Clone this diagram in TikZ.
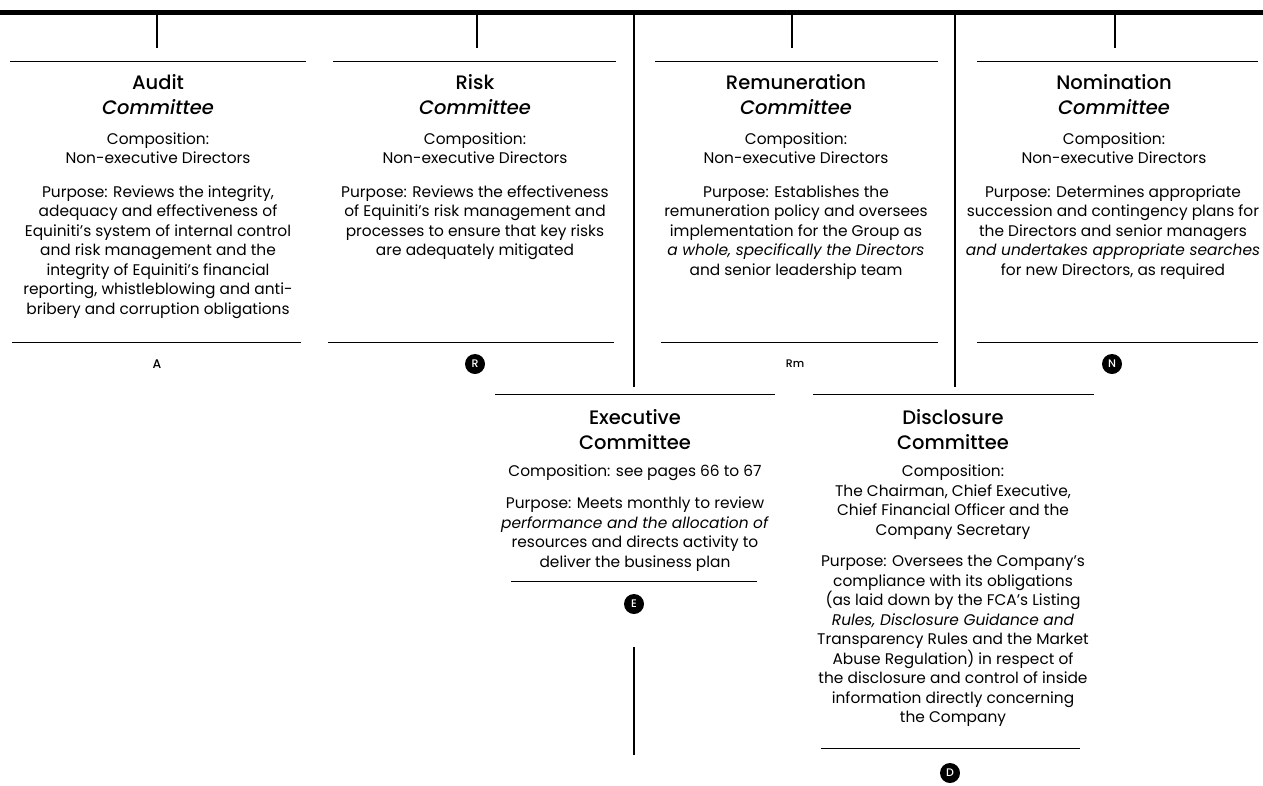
\documentclass[tikz,border=0pt]{standalone}
\usepackage{fontspec}
\setmainfont{Poppins}[BoldFont={Poppins Medium},BoldItalicFont={Poppins Medium Italic},Ligatures=NoCommon]
\begin{document}
\begin{tikzpicture}[x=1pt,y=1pt,
 bar/.style={line width=5pt},
 stub/.style={line width=2pt},
 vline/.style={line width=2.2pt},
 rule/.style={line width=0.9pt},
 ttl/.style={font=\fontsize{19.5}{25}\selectfont\bfseries, align=center, inner sep=0pt, anchor=north},
 body/.style={font=\fontsize{15.4}{19.5}\selectfont, align=center, inner sep=0pt, anchor=north},
 mk/.style={circle, fill=black, text=white, minimum size=20pt, inner sep=0pt, font=\fontsize{11}{11}\selectfont\bfseries},
 plainmk/.style={font=\fontsize{12.5}{12.5}\selectfont\bfseries, inner sep=0pt}]
\useasboundingbox (0,0) rectangle (1263,-785);

% top bar
\coordinate (barL) at (0,-12);
\coordinate (barR) at (1263,-12);
\draw[bar] (barL) -- (barR);

% stubs
\foreach \n/\x in {a/157,r/477,m/792,n/1115}{
  \coordinate (\n s0) at (\x,-12);
  \coordinate (\n s1) at (\x,-48);
  \draw[stub] (\n s0) -- (\n s1);
}
% long verticals
\coordinate (v1a) at (634,-12); \coordinate (v1b) at (634,-387);
\coordinate (v2a) at (955,-12); \coordinate (v2b) at (955,-387);
\draw[vline] (v1a) -- (v1b);
\draw[vline] (v2a) -- (v2b);
\coordinate (v3a) at (634,-647); \coordinate (v3b) at (634,-755);
\draw[vline] (v3a) -- (v3b);

% rules
\coordinate (at0) at (10,-61);  \coordinate (at1) at (306,-61);
\coordinate (ab0) at (12,-342); \coordinate (ab1) at (301,-342);
\coordinate (rt0) at (333,-61); \coordinate (rt1) at (616,-61);
\coordinate (rb0) at (328,-342); \coordinate (rb1) at (614,-342);
\coordinate (mt0) at (655,-61); \coordinate (mt1) at (938,-61);
\coordinate (mb0) at (661,-342); \coordinate (mb1) at (938,-342);
\coordinate (nt0) at (977,-61); \coordinate (nt1) at (1258,-61);
\coordinate (nb0) at (977,-342); \coordinate (nb1) at (1258,-342);
\coordinate (et0) at (495,-394); \coordinate (et1) at (775,-394);
\coordinate (eb0) at (511,-581); \coordinate (eb1) at (757,-581);
\coordinate (dt0) at (813,-394); \coordinate (dt1) at (1094,-394);
\coordinate (db0) at (821,-748); \coordinate (db1) at (1080,-748);
\foreach \p in {at,ab,rt,rb,mt,mb,nt,nb,et,eb,dt,db}{\draw[rule] (\p0) -- (\p1);}

% Audit
\node[ttl] (aT) at (158,-74) {Audit\\\textit{Committee}};
\node[body] (aC) at (158,-132.5) {Composition:\\Non-executive Directors};
\node[body] (aP) at (158,-185.5) {Purpose: Reviews the integrity,\\adequacy and effectiveness of\\Equiniti’s system of internal control\\and risk management and the\\integrity of Equiniti’s financial\\reporting, whistleblowing and anti-\\bribery and corruption obligations};
\node[plainmk] (aM) at (157,-364) {A};

% Risk
\node[ttl] (rT) at (475,-74) {Risk\\\textit{Committee}};
\node[body] (rC) at (475,-132.5) {Composition:\\Non-executive Directors};
\node[body] (rP) at (475,-185.5) {Purpose: Reviews the effectiveness\\of Equiniti’s risk management and\\processes to ensure that key risks\\are adequately mitigated};
\node[mk] (rM) at (475,-364) {R};

% Remuneration
\node[ttl] (mT) at (796,-74) {Remuneration\\\textit{Committee}};
\node[body] (mC) at (796,-132.5) {Composition:\\Non-executive Directors};
\node[body] (mP) at (796,-185.5) {Purpose: Establishes the\\remuneration policy and oversees\\implementation for the Group as\\\textit{a whole, specifically the Directors}\\and senior leadership team};
\node[plainmk, font=\fontsize{11}{11}\selectfont\bfseries] (mM) at (795,-364) {Rm};

% Nomination
\node[ttl] (nT) at (1114,-74) {Nomination\\\textit{Committee}};
\node[body] (nC) at (1114,-132.5) {Composition:\\Non-executive Directors};
\node[body] (nP) at (1113,-185.5) {Purpose: Determines appropriate\\succession and contingency plans for\\the Directors and senior managers\\\textit{and undertakes appropriate searches}\\for new Directors, as required};
\node[mk] (nM) at (1112,-364) {N};

% Executive
\node[ttl] (eT) at (635,-409) {Executive\\Committee};
\node[body] (eC) at (635,-465) {Composition: see pages 66 to 67};
\node[body] (eP) at (635,-497) {Purpose: Meets monthly to review\\\textit{performance and the allocation of}\\resources and directs activity to\\deliver the business plan};
\node[mk] (eM) at (634,-604) {E};

% Disclosure
\node[ttl] (dT) at (953,-409) {Disclosure\\Committee};
\node[body] (dC) at (953,-465) {Composition:\\The Chairman, Chief Executive,\\Chief Financial Officer and the\\Company Secretary};
\node[body] (dP) at (953,-555) {Purpose: Oversees the Company’s\\compliance with its obligations\\(as laid down by the FCA’s Listing\\\textit{Rules, Disclosure Guidance and}\\Transparency Rules and the Market\\Abuse Regulation) in respect of\\the disclosure and control of inside\\information directly concerning\\the Company};
\node[mk] (dM) at (950,-773) {D};
\end{tikzpicture}
\end{document}
